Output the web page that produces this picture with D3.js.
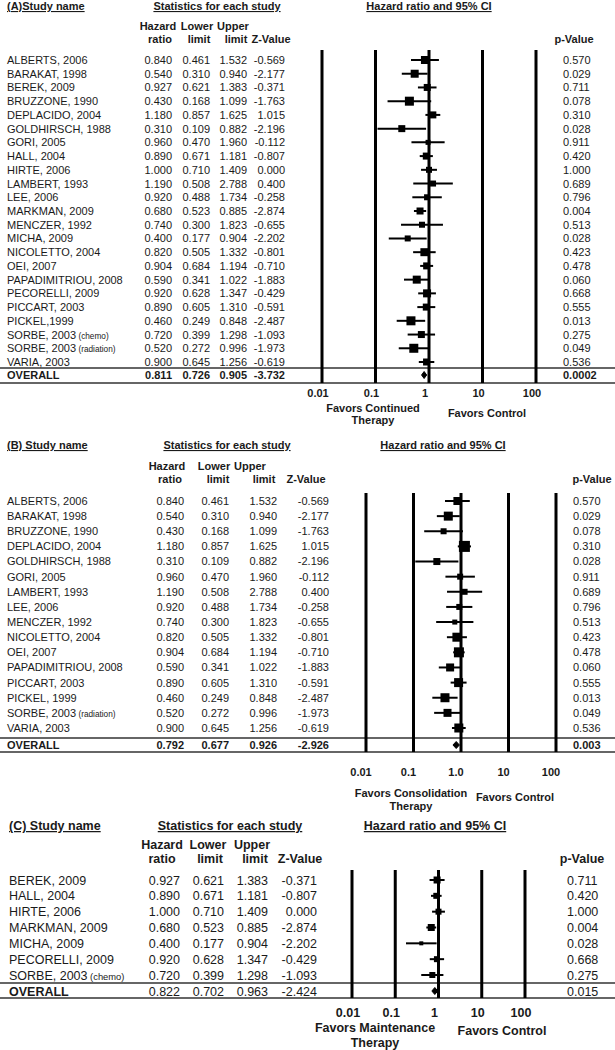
<!DOCTYPE html>
<html>
<head>
<meta charset="utf-8">
<script src="https://cdn.jsdelivr.net/npm/d3@7"></script>
<style>
  body { margin: 0; background: #fff; }
  svg { display: block; font-family: "Liberation Sans", Arial, sans-serif; }
  .ul { text-decoration: underline; }
</style>
</head>
<body>
<svg id="chart" width="615" height="1050"></svg>
<script>
"use strict";

// ---- panel A data (continued therapy) ----
var studiesA = ["ALBERTS, 2006", "BARAKAT, 1998", "BEREK, 2009", "BRUZZONE, 1990", "DEPLACIDO, 2004",
    "GOLDHIRSCH, 1988", "GORI, 2005", "HALL, 2004", "HIRTE, 2006", "LAMBERT, 1993", "LEE, 2006",
    "MARKMAN, 2009", "MENCZER, 1992", "MICHA, 2009", "NICOLETTO, 2004", "OEI, 2007",
    "PAPADIMITRIOU, 2008", "PECORELLI, 2009", "PICCART, 2003", "PICKEL,1999",
    "SORBE, 2003|(chemo)", "SORBE, 2003|(radiation)", "VARIA, 2003"];
var hrA    = [0.840, 0.540, 0.927, 0.430, 1.180, 0.310, 0.960, 0.890, 1.000, 1.190, 0.920, 0.680, 0.740, 0.400, 0.820, 0.904, 0.590, 0.920, 0.890, 0.460, 0.720, 0.520, 0.900];
var lowA   = [0.461, 0.310, 0.621, 0.168, 0.857, 0.109, 0.470, 0.671, 0.710, 0.508, 0.488, 0.523, 0.300, 0.177, 0.505, 0.684, 0.341, 0.628, 0.605, 0.249, 0.399, 0.272, 0.645];
var upA    = [1.532, 0.940, 1.383, 1.099, 1.625, 0.882, 1.960, 1.181, 1.409, 2.788, 1.734, 0.885, 1.823, 0.904, 1.332, 1.194, 1.022, 1.347, 1.310, 0.848, 1.298, 0.996, 1.256];
var zA     = [-0.569, -2.177, -0.371, -1.763, 1.015, -2.196, -0.112, -0.807, 0.000, 0.400, -0.258, -2.874, -0.655, -2.202, -0.801, -0.710, -1.883, -0.429, -0.591, -2.487, -1.093, -1.973, -0.619];
var pA     = [0.570, 0.029, 0.711, 0.078, 0.310, 0.028, 0.911, 0.420, 1.000, 0.689, 0.796, 0.004, 0.513, 0.028, 0.423, 0.478, 0.060, 0.668, 0.555, 0.013, 0.275, 0.049, 0.536];
var boxA   = [8, 8, 7, 9, 7, 7, 5, 7, 6, 6, 6, 7, 6, 6, 8, 7, 8, 8, 7, 9, 7, 9, 7];
var overallA = {hr: 0.811, low: 0.726, up: 0.905, z: -3.732, p: 0.0002};

// ---- panel B data (consolidation therapy) ----
var studiesB = ["ALBERTS, 2006", "BARAKAT, 1998", "BRUZZONE, 1990", "DEPLACIDO, 2004", "GOLDHIRSCH,  1988",
    "GORI, 2005", "LAMBERT, 1993", "LEE, 2006", "MENCZER, 1992", "NICOLETTO,  2004", "OEI, 2007",
    "PAPADIMITRIOU,  2008", "PICCART,  2003", "PICKEL, 1999", "SORBE, 2003|(radiation)", "VARIA, 2003"];
var hrB    = [0.840, 0.540, 0.430, 1.180, 0.310, 0.960, 1.190, 0.920, 0.740, 0.820, 0.904, 0.590, 0.890, 0.460, 0.520, 0.900];
var lowB   = [0.461, 0.310, 0.168, 0.857, 0.109, 0.470, 0.508, 0.488, 0.300, 0.505, 0.684, 0.341, 0.605, 0.249, 0.272, 0.645];
var upB    = [1.532, 0.940, 1.099, 1.625, 0.882, 1.960, 2.788, 1.734, 1.823, 1.332, 1.194, 1.022, 1.310, 0.848, 0.996, 1.256];
var zB     = [-0.569, -2.177, -1.763, 1.015, -2.196, -0.112, 0.400, -0.258, -0.655, -0.801, -0.710, -1.883, -0.591, -2.487, -1.973, -0.619];
var pB     = [0.570, 0.029, 0.078, 0.310, 0.028, 0.911, 0.689, 0.796, 0.513, 0.423, 0.478, 0.060, 0.555, 0.013, 0.049, 0.536];
var boxB   = [8, 9, 6, 11, 7, 6, 6, 6, 5, 9, 10, 8, 9, 9, 8, 9];
var overallB = {hr: 0.792, low: 0.677, up: 0.926, z: -2.926, p: 0.003};

// ---- panel C data (maintenance therapy) ----
var studiesC = ["BEREK, 2009", "HALL, 2004", "HIRTE, 2006", "MARKMAN, 2009", "MICHA, 2009", "PECORELLI, 2009", "SORBE, 2003|(chemo)"];
var hrC    = [0.927, 0.890, 1.000, 0.680, 0.400, 0.920, 0.720];
var lowC   = [0.621, 0.671, 0.710, 0.523, 0.177, 0.628, 0.399];
var upC    = [1.383, 1.181, 1.409, 0.885, 0.904, 1.347, 1.298];
var zC     = [-0.371, -0.807, 0.000, -2.874, -2.202, -0.429, -1.093];
var pC     = [0.711, 0.420, 1.000, 0.004, 0.028, 0.668, 0.275];
var boxC   = [7, 6, 6, 7, 4, 6, 6];
var overallC = {hr: 0.822, low: 0.702, up: 0.963, z: -2.424, p: 0.015};

var tickValues = [0.01, 0.1, 1, 10, 100];

var svg = d3.select("#chart");
var ink = "#1a1a1a";
// plain hyphen for negatives, like the printed table
var loc = d3.formatLocale({decimal: ".", thousands: ",", grouping: [3], currency: ["", ""], minus: "-"});
var f3 = loc.format(".3f");
function fp(p) { return p < 0.001 ? loc.format(".4f")(p) : f3(p); }

// draws one forest panel; layout lives in cfg, values in d
function drawPanel(cfg, d) {
    var g = svg.append("g");
    var fs = cfg.fs;

    function txt(x, y, s, anchor, bold, size) {
        return g.append("text").attr("x", x).attr("y", y).attr("fill", ink)
            .attr("font-size", size || fs).attr("font-weight", bold ? "bold" : "normal")
            .attr("text-anchor", anchor || "start").text(s);
    }

    // top titles
    txt(cfg.nameX, cfg.titleY, cfg.title, "start", true).attr("class", "ul");
    txt(cfg.statsX, cfg.titleY, "Statistics for each study", "middle", true).attr("class", "ul");
    txt(cfg.plotTitleX, cfg.titleY, "Hazard ratio and 95% CI", "middle", true).attr("class", "ul");

    // column headers
    var h1 = ["Hazard", "Lower", "Upper"], h2 = ["ratio", "limit", "limit", "Z-Value"];
    h1.forEach(function(s, i) { txt(cfg.h1X[i], cfg.head1Y, s, "middle", true); });
    h2.forEach(function(s, i) { txt(cfg.h2X[i], cfg.head2Y, s, "middle", true); });
    txt(cfg.pHeadX, cfg.head2Y, "p-Value", "middle", true);

    var n = d.names.length;
    var y = d3.scaleLinear().domain([0, n - 1]).range([cfg.row0, cfg.rowN]);
    var x = d3.scaleLog().domain([0.01, 100]).range(cfg.xRange);

    // separator lines around the overall row
    [cfg.sep1, cfg.sep2].forEach(function(yy) {
        g.append("line").attr("x1", 0).attr("x2", 615).attr("y1", yy).attr("y2", yy)
            .attr("stroke", "#333").attr("stroke-width", 1.6);
    });

    // vertical reference lines
    g.selectAll("line.ref").data(tickValues).enter().append("line")
        .attr("x1", function(v) { return x(v); }).attr("x2", function(v) { return x(v); })
        .attr("y1", cfg.plotTop).attr("y2", cfg.sep2)
        .attr("stroke", "#000").attr("stroke-width", 3);

    // axis labels
    tickValues.forEach(function(v, i) {
        txt(x(v) + cfg.tickDx, cfg.tickY, cfg.tickLabels[i], "middle", true);
    });
    txt(cfg.favL.x, cfg.favL.y, cfg.favL.t1, "middle", true);
    txt(cfg.favL.x, cfg.favL.y + cfg.favGap, "Therapy", "middle", true);
    txt(cfg.favR.x, cfg.favR.y, "Favors Control", "middle", true);

    // study rows
    d.names.forEach(function(name, i) {
        var yy = y(i) + fs * 0.36;
        var parts = name.split("|");
        var t = txt(cfg.nameX, yy, parts[0]);
        if (parts[1]) {
            t.append("tspan").attr("font-size", fs * 0.75).text(" " + parts[1]);
        }
        txt(cfg.colX[0], yy, f3(d.hr[i]), "end");
        txt(cfg.colX[1], yy, f3(d.low[i]), "end");
        txt(cfg.colX[2], yy, f3(d.up[i]), "end");
        txt(cfg.colX[3], yy, f3(d.z[i]), "end");
        txt(cfg.pX, yy, fp(d.p[i]), "start");
    });

    // CI whiskers and boxes
    g.selectAll("line.ci").data(d3.range(n)).enter().append("line")
        .attr("x1", function(i) { return x(d.low[i]); })
        .attr("x2", function(i) { return x(d.up[i]); })
        .attr("y1", function(i) { return y(i); }).attr("y2", function(i) { return y(i); })
        .attr("stroke", "#000").attr("stroke-width", 2);
    g.selectAll("rect.box").data(d3.range(n)).enter().append("rect")
        .attr("x", function(i) { return x(d.hr[i]) - d.box[i] / 2; })
        .attr("y", function(i) { return y(i) - d.box[i] / 2; })
        .attr("width", function(i) { return d.box[i]; })
        .attr("height", function(i) { return d.box[i]; })
        .attr("fill", "#000");

    // overall row
    var o = d.overall, oy = cfg.overallY, ob = oy + fs * 0.36, bb = cfg.overallBold;
    txt(cfg.nameX, ob, "OVERALL", "start", true);
    txt(cfg.colX[0], ob, f3(o.hr), "end", bb);
    txt(cfg.colX[1], ob, f3(o.low), "end", bb);
    txt(cfg.colX[2], ob, f3(o.up), "end", bb);
    txt(cfg.colX[3], ob, f3(o.z), "end", bb);
    txt(cfg.pX, ob, fp(o.p), "start", bb);
    var dh = 3.5;
    g.append("path")
        .attr("d", "M" + x(o.low) + "," + oy + "L" + x(o.hr) + "," + (oy - dh) +
            "L" + x(o.up) + "," + oy + "L" + x(o.hr) + "," + (oy + dh) + "Z")
        .attr("fill", "#000").attr("stroke", "#000").attr("stroke-width", 1);
}

drawPanel({
    fs: 11, title: "(A)Study name", nameX: 7, titleY: 10, statsX: 217, plotTitleX: 429,
    head1Y: 30, head2Y: 43, h1X: [158, 197, 233], h2X: [160, 199, 236, 271], pHeadX: 574,
    row0: 60, rowN: 362, overallY: 375, sep1: 368, sep2: 383, plotTop: 50, overallBold: true,
    xRange: [322, 536], colX: [172, 210, 247, 285], pX: 563,
    tickY: 397, tickDx: -4, tickLabels: ["0.01", "0.1", "1", "10", "100"],
    favL: {x: 373, y: 412, t1: "Favors Continued"}, favGap: 12, favR: {x: 487, y: 417}
}, {names: studiesA, hr: hrA, low: lowA, up: upA, z: zA, p: pA, box: boxA, overall: overallA});

drawPanel({
    fs: 11, title: "(B) Study name", nameX: 7, titleY: 449, statsX: 227, plotTitleX: 443,
    head1Y: 470, head2Y: 483, h1X: [167, 214, 250], h2X: [170, 218, 264, 306], pHeadX: 592,
    row0: 501, rowN: 728, overallY: 745, sep1: 738, sep2: 752, plotTop: 493, overallBold: true,
    xRange: [366, 556], colX: [184, 229, 277, 329], pX: 573,
    tickY: 776, tickDx: -5, tickLabels: ["0.01", "0.1", "1.0", "10", "100"],
    favL: {x: 411, y: 797, t1: "Favors Consolidation"}, favGap: 13, favR: {x: 515, y: 801}
}, {names: studiesB, hr: hrB, low: lowB, up: upB, z: zB, p: pB, box: boxB, overall: overallB});

drawPanel({
    fs: 12.5, title: "(C) Study name", nameX: 9, titleY: 830, statsX: 230, plotTitleX: 435,
    head1Y: 849, head2Y: 863, h1X: [162, 208, 252], h2X: [162, 210, 255, 300], pHeadX: 582,
    row0: 880, rowN: 975, overallY: 991, sep1: 983, sep2: 998, plotTop: 870, overallBold: false,
    xRange: [352, 525], colX: [180, 224, 268, 317], pX: 567,
    tickY: 1017, tickDx: -4, tickLabels: ["0.01", "0.1", "1", "10", "100"],
    favL: {x: 375, y: 1032, t1: "Favors Maintenance"}, favGap: 15, favR: {x: 502, y: 1035}
}, {names: studiesC, hr: hrC, low: lowC, up: upC, z: zC, p: pC, box: boxC, overall: overallC});
</script>
</body>
</html>
